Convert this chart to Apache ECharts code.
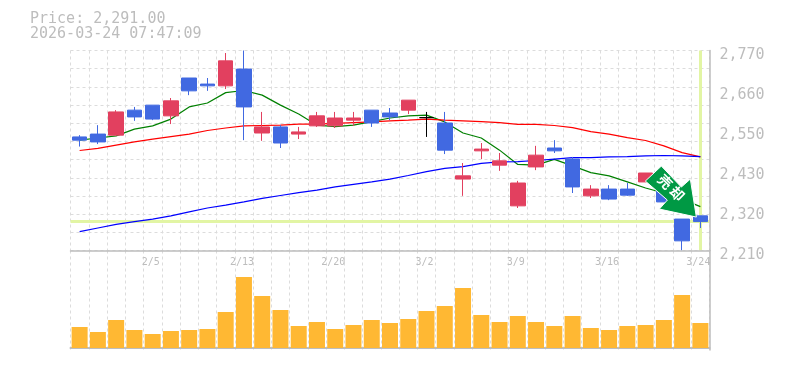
<!DOCTYPE html>
<html><head><meta charset="utf-8">
<style>html,body{margin:0;padding:0;background:#fff}#c{width:785px;height:370px}</style>
<script src="https://cdn.jsdelivr.net/npm/echarts@6/dist/echarts.min.js"></script>
</head><body><div id="c"></div>
<script>
const dates=['1/30','2/2','2/3','2/4','2/5','2/6','2/9','2/10','2/12','2/13','2/16','2/17','2/18','2/19','2/20','2/24','2/25','2/26','2/27','3/2','3/3','3/4','3/5','3/6','3/9','3/10','3/11','3/12','3/13','3/16','3/17','3/18','3/19','3/23','3/24'];
const shownDates=['2/5','2/13','2/20','3/2','3/9','3/16','3/24'];
const opens=[2528,2536,2533,2603,2617,2587,2693,2676,2671,2718,2539,2556,2536,2559,2559,2575,2603,2595,2603,2582,2567,2410,2489,2449,2335,2444,2497,2466,2363,2382,2382,2402,2391,2298,2307];
const closes=[2519,2514,2598,2584,2578,2629,2657,2671,2741,2612,2556,2511,2542,2587,2581,2581,2567,2584,2631,2582,2491,2419,2494,2461,2399,2477,2489,2388,2382,2354,2365,2427,2346,2237,2291];
const lows=[2501,2508,2533,2573,2575,2564,2645,2657,2662,2519,2517,2497,2522,2556,2553,2559,2556,2575,2592,2528,2480,2363,2466,2433,2329,2435,2483,2371,2357,2351,2363,2402,2346,2211,2273];
const highs=[2533,2561,2603,2612,2617,2637,2693,2693,2763,2770,2598,2561,2556,2598,2598,2598,2603,2609,2631,2598,2598,2455,2511,2483,2405,2503,2519,2472,2393,2393,2399,2427,2391,2298,2307];
const maShort=[2519,2525,2531,2550,2559,2578,2612,2623,2652,2658,2645,2617,2592,2561,2557,2561,2571,2581,2587,2589,2570,2539,2525,2491,2451,2449,2465,2447,2428,2419,2402,2385,2371,2354,2333];
const maMid=[2490,2496,2505,2514,2522,2529,2536,2546,2553,2559,2560,2561,2564,2564,2566,2568,2570,2573,2575,2578,2575,2573,2571,2568,2563,2563,2560,2554,2543,2536,2526,2518,2503,2484,2472];
const maLong=[2263,2273,2283,2291,2298,2307,2318,2329,2337,2346,2356,2364,2372,2379,2388,2395,2402,2410,2420,2431,2440,2445,2454,2458,2459,2462,2466,2470,2470,2472,2473,2475,2476,2475,2473];
const volumes=[21,16,28,18,14,17,18,19,36,71,52,38,22,26,19,23,28,25,29,37,42,60,33,26,32,26,22,32,20,18,22,23,28,53,25];
const priceTicks=['2,210','2,320','2,430','2,550','2,660','2,770'];
const lastPrice=2291, lastDate='3/24';
const titleText='Price: 2,291.00\n2026-03-24 07:47:09';
const signalText='売却';

const GRID='#dcdcdc', AXIS='#bdbdbd', TEXT='#bdbdbd', MONO='"DejaVu Sans Mono","Liberation Mono",monospace';
const dash={show:true,lineStyle:{color:GRID,type:[3,3],width:1}};
const line=(name,data,color)=>({name,type:'line',data,xAxisIndex:0,yAxisIndex:0,showSymbol:false,z:1,silent:true,
  lineStyle:{color,width:1.2},itemStyle:{color},animation:false});
const chart=echarts.init(document.getElementById('c'),null,{renderer:'canvas'});
chart.setOption({
  animation:false,backgroundColor:'#fff',
  title:{text:titleText,left:25,top:7,textStyle:{fontFamily:MONO,fontSize:15,fontWeight:'normal',color:TEXT,lineHeight:15}},
  grid:[{left:70.5,top:50.5,width:639,height:200},{left:70.5,top:250.5,width:639,height:99.5}],
  xAxis:[
    {type:'category',gridIndex:0,data:dates,boundaryGap:true,axisTick:{show:false},
     axisLine:{lineStyle:{color:AXIS,width:1.5}},splitLine:Object.assign({interval:0},dash),
     axisLabel:{interval:i=>shownDates.includes(dates[i]),color:TEXT,fontFamily:MONO,fontSize:10,margin:7,padding:[0,4,0,0],hideOverlap:false}},
    {type:'category',gridIndex:1,data:dates,boundaryGap:true,axisTick:{show:false},axisLabel:{show:false},
     axisLine:{lineStyle:{color:AXIS,width:2}},splitLine:Object.assign({interval:0},dash)}
  ],
  yAxis:[
    {type:'value',gridIndex:0,min:2210,max:2770,show:false},
    {type:'value',gridIndex:0,min:0,max:11,interval:1,position:'left',axisLine:{show:false},axisTick:{show:false},axisLabel:{show:false},splitLine:dash},
    {type:'value',gridIndex:0,min:0,max:5,interval:1,position:'right',axisTick:{show:false},splitLine:{show:false},
     axisLine:{show:true,lineStyle:{color:AXIS,width:1.5}},
     axisLabel:{formatter:v=>priceTicks[v],color:TEXT,fontFamily:MONO,fontSize:15,margin:10,verticalAlign:'top',lineHeight:10}},
    {type:'value',gridIndex:1,min:-2,max:97.5,position:'right',axisTick:{show:false},axisLabel:{show:false},splitLine:{show:false},
     axisLine:{show:true,onZero:false,lineStyle:{color:AXIS,width:1.5}}}
  ],
  series:[
    {type:'line',name:'guides',data:[],xAxisIndex:0,yAxisIndex:0,z:0,silent:true,
     markLine:{silent:true,symbol:'none',z:0,animation:false,label:{show:false},
       lineStyle:{color:'#e2f5a4',width:3,type:'solid'},
       data:[{yAxis:lastPrice},{xAxis:lastDate}]}},
    line('short',maShort,'#008000'),
    line('mid',maMid,'#ff0000'),
    line('long',maLong,'#0000ff'),
    {type:'candlestick',name:'price',xAxisIndex:0,yAxisIndex:0,z:2,barWidth:15,silent:true,clip:false,
     data:dates.map((d,i)=>[opens[i],closes[i],lows[i],highs[i]]),
     itemStyle:{color:'#e2405f',color0:'#4169e1',borderColor:'#e2405f',borderColor0:'#4169e1',borderColorDoji:'#000',borderWidth:1},
     markPoint:{silent:true,z:10,animation:false,
       symbol:'path://M16 0 L36 21 L45 13 L51 51 L14 43 L22 34 L0 15 Z',symbolSize:[51,51],symbolOffset:[7,0],
       itemStyle:{color:'#009944',borderColor:'#fff',borderWidth:1},
       label:{show:true,position:'inside',formatter:signalText.split('').join(' '),rotate:-45,offset:[-2.5,-3],color:'#fff',fontSize:14,fontWeight:'bold',fontFamily:'"Noto Sans CJK JP"'},
       data:[{coord:['3/19',2375]}]}},
    {type:'bar',name:'volume',xAxisIndex:1,yAxisIndex:3,data:volumes,barWidth:16,itemStyle:{color:'#ffb833'},silent:true}
  ]
});
</script></body></html>
